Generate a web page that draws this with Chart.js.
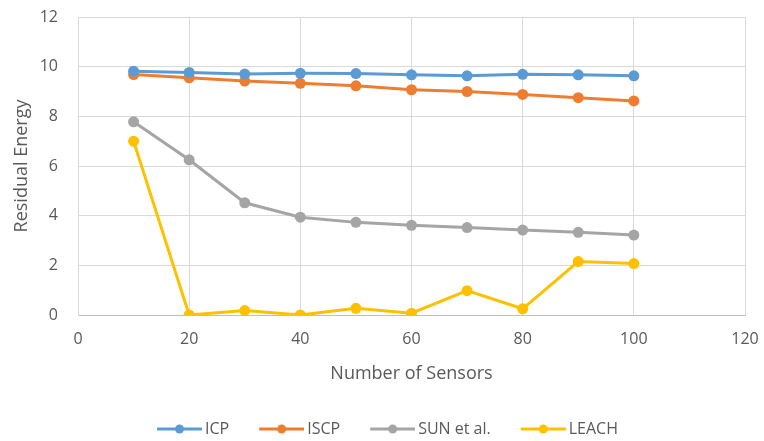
<!DOCTYPE html>
<html>
<head>
<meta charset="utf-8">
<script src="https://cdn.jsdelivr.net/npm/chart.js@4/dist/chart.umd.min.js"></script>
<style>
  html, body { margin: 0; padding: 0; background: #fff; }
  #wrap { width: 764px; height: 441px; }
</style>
</head>
<body>
<div id="wrap"><canvas id="c" width="764" height="441"></canvas></div>
<script>
// Number of sensors deployed
const sensors = [10, 20, 30, 40, 50, 60, 70, 80, 90, 100];

// Residual energy per protocol
const icp   = [9.82, 9.77, 9.70, 9.73, 9.72, 9.67, 9.63, 9.69, 9.67, 9.63];
const iscp  = [9.68, 9.55, 9.42, 9.33, 9.23, 9.07, 9.00, 8.88, 8.75, 8.62];
const sun   = [7.78, 6.25, 4.52, 3.94, 3.73, 3.61, 3.52, 3.42, 3.33, 3.22];
const leach = [7.00, 0.00, 0.18, 0.00, 0.27, 0.07, 0.98, 0.25, 2.15, 2.07];

const seriesNames  = ['ICP', 'ISCP', 'SUN et al.', 'LEACH'];
const seriesColors = ['#5B9BD5', '#ED7D31', '#A5A5A5', '#FFC000'];
const seriesValues = [icp, iscp, sun, leach];

// Axis ranges
const xMin = 0, xMax = 120, xStep = 20;
const yMin = 0, yMax = 12, yStep = 2;

const textColor = '#595959';
const fontFamily = '"Open Sans", "DejaVu Sans", sans-serif';

// Legend swatch: a short line with a marker, sitting close to its label
const SWATCH_BOX = 70;      // legend box width reserved per item
const LINE_LEN = 45;        // visible line length
const LINE_OVER = 5;        // how far the line runs past the box toward the text
function legendSwatch(color) {
  const half = SWATCH_BOX / 2;
  const lineEnd = SWATCH_BOX + LINE_OVER;            // relative to box left
  const lineStart = lineEnd - LINE_LEN;
  const halfW = Math.max(lineEnd - half, half - lineStart);
  const cv = document.createElement('canvas');
  cv.width = Math.ceil(halfW * 2); cv.height = 12;
  const origin = half - halfW;                        // canvas x=0 relative to box left
  const g = cv.getContext('2d');
  g.strokeStyle = color; g.lineWidth = 3;
  g.beginPath(); g.moveTo(lineStart - origin, 6); g.lineTo(lineEnd - origin, 6); g.stroke();
  g.fillStyle = color;
  g.beginPath(); g.arc((lineStart + lineEnd) / 2 - origin, 6, 4.5, 0, Math.PI * 2); g.fill();
  return cv;
}

const datasets = seriesNames.map((name, i) => ({
  label: name,
  data: sensors.map((s, k) => ({ x: s, y: seriesValues[i][k] })),
  borderColor: seriesColors[i],
  backgroundColor: seriesColors[i],
  borderWidth: 3,
  pointRadius: 5.5,
  pointHoverRadius: 5.5,
  pointBorderWidth: 0,
  pointStyle: 'circle',
  tension: 0,
  swatch: legendSwatch(seriesColors[i])
}));

new Chart(document.getElementById('c'), {
  type: 'line',
  data: { datasets },
  options: {
    responsive: false,
    animation: false,
    layout: { padding: { top: 17, right: 19, bottom: -6, left: 0 } },
    scales: {
      x: {
        type: 'linear',
        min: xMin, max: xMax,
        ticks: { stepSize: xStep, color: textColor, font: { family: fontFamily, size: 16 }, padding: 15 },
        grid: { color: '#D9D9D9', lineWidth: 1, drawTicks: false },
        border: { color: '#BFBFBF', width: 1 },
        title: { display: true, text: 'Number of Sensors', color: textColor,
                 font: { family: fontFamily, size: 18 }, padding: { top: 6, bottom: 36 } },
        afterFit: (s) => { s.height = 106; s.paddingLeft = 0; s.paddingRight = 0; }
      },
      y: {
        min: yMin, max: yMax,
        ticks: { stepSize: yStep, color: textColor, font: { family: fontFamily, size: 16 }, padding: 20 },
        grid: { color: '#D9D9D9', lineWidth: 1, drawTicks: false },
        border: { color: '#D9D9D9', width: 1 },
        title: { display: true, text: 'Residual Energy', color: textColor,
                 font: { family: fontFamily, size: 18 }, padding: { top: 11, bottom: 4 } },
        afterFit: (s) => { s.width = 78; s.paddingTop = 0; s.paddingBottom = 0; }
      }
    },
    plugins: {
      tooltip: { enabled: false },
      legend: {
        position: 'bottom',
        labels: {
          color: textColor,
          font: { family: fontFamily, size: 16 },
          usePointStyle: true,
          pointStyleWidth: SWATCH_BOX,
          padding: 0,
          generateLabels: (chart) => chart.data.datasets.map((d, i) => ({
            text: d.label,
            pointStyle: d.swatch,
            fillStyle: d.borderColor,
            strokeStyle: d.borderColor,
            lineWidth: 0,
            fontColor: textColor,
            datasetIndex: i,
            hidden: false
          }))
        }
      }
    }
  }
});
</script>
</body>
</html>
